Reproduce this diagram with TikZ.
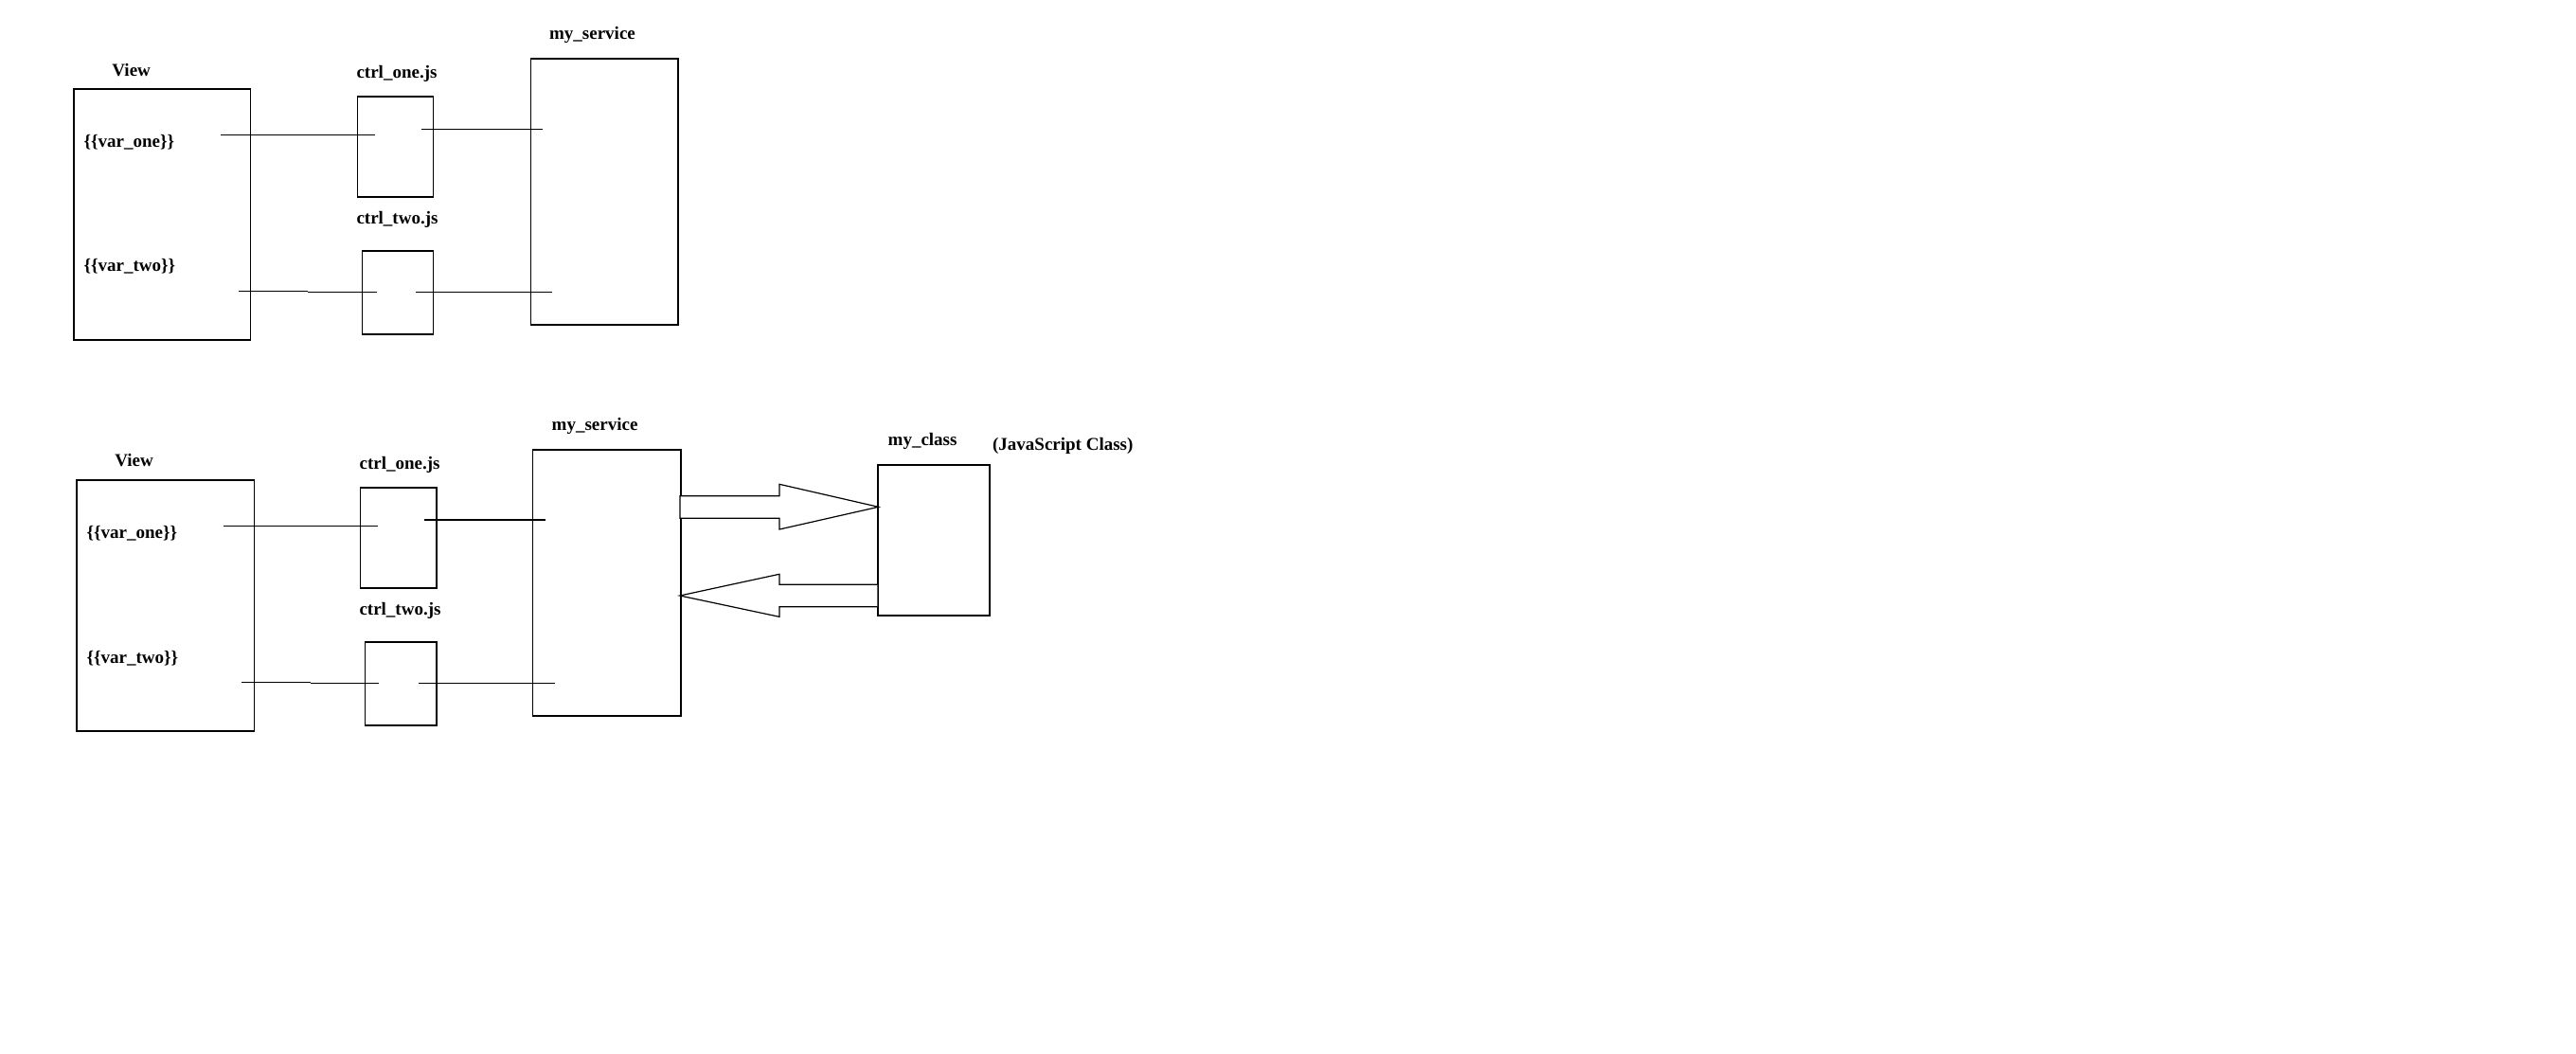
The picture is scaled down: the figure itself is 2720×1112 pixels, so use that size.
\documentclass[tikz,border=0pt]{standalone}
\usepackage{fontspec}
\setmainfont{Liberation Serif}
\begin{document}
\begin{tikzpicture}[x=1pt,y=-1pt,
  box/.style={draw=black,line width=1.2pt,inner sep=0pt,anchor=north west},
  lbl/.style={font=\fontsize{19}{21}\selectfont\bfseries,inner sep=0pt,anchor=base},
  vlbl/.style={font=\fontsize{19}{21}\selectfont\bfseries,inner sep=0pt,anchor=base west},
  wire/.style={draw=black,line width=1.2pt},
  blockarrow/.style={draw=black,line width=1.2pt,fill=white,line join=miter}]
\useasboundingbox[fill=white] (0,0) rectangle (2720,1112);

% ---------- top diagram ----------
\node[box,minimum width=186.9pt,minimum height=265pt] (viewA) at (77.3,93.3) {};
\node[box,minimum width=80.6pt,minimum height=106pt] (c1A) at (376.6,101.3) {};
\node[box,minimum width=75pt,minimum height=88pt] (c2A) at (382.2,264.3) {};
\node[box,minimum width=155.7pt,minimum height=281pt] (svcA) at (559.6,61.3) {};

\node[lbl] (viewAl) at (138.7,80) {View};
\node[lbl] (c1Al) at (419,82.3) {ctrl\_one.js};
\node[lbl] (c2Al) at (419.5,236.7) {ctrl\_two.js};
\node[lbl] (svcAl) at (625.5,41.7) {my\_service};
\node[vlbl] (v1A) at (88.5,155) {\{\{var\_one\}\}};
\node[vlbl] (v2A) at (88.5,286.7) {\{\{var\_two\}\}};

\coordinate (a1s) at (233,142.3);   \coordinate (a1e) at (396.1,142.3);
\coordinate (a2s) at (445.1,136.3); \coordinate (a2e) at (573,136.3);
\coordinate (a3s) at (252.1,307.3); \coordinate (a3m) at (325,307.3);
\coordinate (a3n) at (325,308.3);   \coordinate (a3e) at (397.8,308.3);
\coordinate (a4s) at (439,308.3);   \coordinate (a4e) at (583,308.3);
\draw[wire] (a1s) -- (a1e);
\draw[wire] (a2s) -- (a2e);
\draw[wire] (a3s) -- (a3m);
\draw[wire] (a3n) -- (a3e);
\draw[wire] (a4s) -- (a4e);

% ---------- bottom diagram ----------
\node[box,minimum width=187.3pt,minimum height=265pt] (viewB) at (80.4,506.3) {};
\node[box,minimum width=80.7pt,minimum height=106pt] (c1B) at (379.6,514.3) {};
\node[box,minimum width=75.1pt,minimum height=88pt] (c2B) at (385.2,677.3) {};
\node[box,minimum width=156.1pt,minimum height=281pt] (svcB) at (562.2,474.3) {};
\node[box,minimum width=117.9pt,minimum height=159pt] (cls) at (926.4,490.3) {};

\node[lbl] (viewBl) at (141.5,492.7) {View};
\node[lbl] (c1Bl) at (422.1,495.3) {ctrl\_one.js};
\node[lbl] (c2Bl) at (422.5,649) {ctrl\_two.js};
\node[lbl] (svcBl) at (628.1,454.3) {my\_service};
\node[lbl] (clsl) at (974.1,470) {my\_class};
\node[vlbl] (jsl) at (1047.9,475) {(JavaScript Class)};
\node[vlbl] (v1B) at (91.5,568.3) {\{\{var\_one\}\}};
\node[vlbl] (v2B) at (91.5,700) {\{\{var\_two\}\}};

\coordinate (b1s) at (236.1,555.3); \coordinate (b1e) at (398.7,555.3);
\coordinate (b2s) at (448.1,549);   \coordinate (b2e) at (575.6,549);
\coordinate (b3s) at (255.1,720.3); \coordinate (b3m) at (328,720.3);
\coordinate (b3n) at (328,721.3);   \coordinate (b3e) at (400.4,721.3);
\coordinate (b4s) at (442,721.3);   \coordinate (b4e) at (585.6,721.3);
\draw[wire] (b1s) -- (b1e);
\draw[wire] (b2s) -- (b2e);
\draw[wire] (b3s) -- (b3m);
\draw[wire] (b3n) -- (b3e);
\draw[wire] (b4s) -- (b4e);

% block arrows between my_service and my_class
\draw[blockarrow] (717.9,523.7) -- (822.9,523.7) -- (822.9,511.3) -- (927.5,535.3)
  -- (822.9,559) -- (822.9,547.3) -- (717.9,547.3) -- cycle;
\draw[blockarrow] (926.4,617.3) -- (822.9,617.3) -- (822.9,606.3) -- (717.9,629)
  -- (822.9,651.3) -- (822.9,640.7) -- (926.4,640.7);
\end{tikzpicture}
\end{document}
